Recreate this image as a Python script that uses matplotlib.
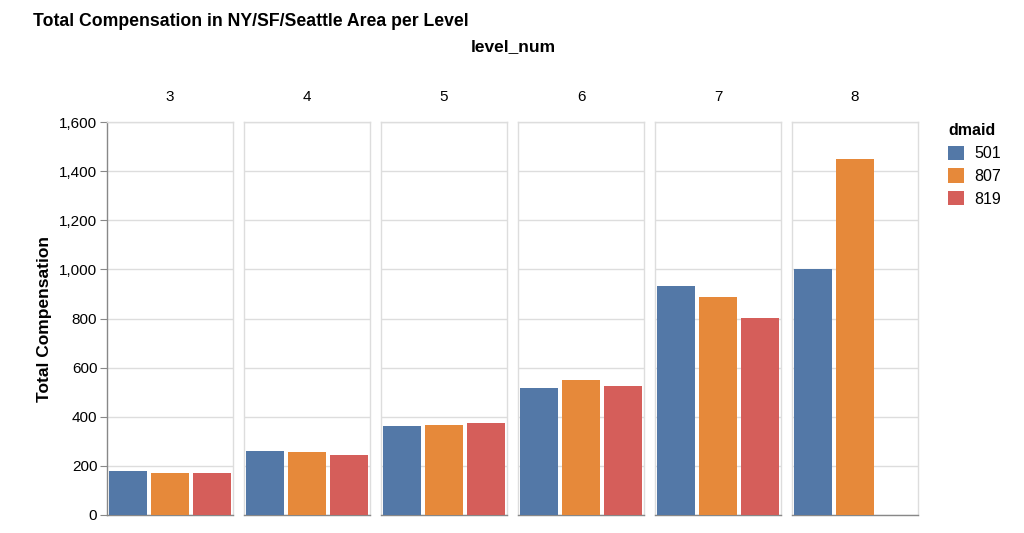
import numpy as np
import matplotlib.pyplot as plt
from matplotlib.patches import Patch

plt.rcParams['font.family'] = ['Liberation Sans', 'DejaVu Sans']

levels = [3, 4, 5, 6, 7, 8]
dmaids = ['501', '807', '819']
comp_501 = [179, 260, 362, 516, 934, 1003]
comp_807 = [173, 255, 365, 550, 889, 1450]
comp_819 = [173, 244, 375, 525, 801, np.nan]
colors = ['#5378a7', '#e6893a', '#d55e5a']

series = [comp_501, comp_807, comp_819]

W, H = 1024, 533
fig = plt.figure(figsize=(W / 100, H / 100), dpi=100)


def px(x0, y0, x1, y1):
    return [x0 / W, 1 - y1 / H, (x1 - x0) / W, (y1 - y0) / H]


left0, fw, step = 107, 126, 137
top, bottom = 122, 515
grid_c = '#dddddd'
axis_c = '#888888'

for i, lev in enumerate(levels):
    x0 = left0 + i * step
    ax = fig.add_axes(px(x0, top, x0 + fw, bottom))
    for j in range(3):
        v = series[j][i]
        if not np.isnan(v):
            ax.bar(j, v, width=0.9, color=colors[j], zorder=3)
    ax.set_xlim(-0.5, 2.5)
    ax.set_ylim(0, 1600)
    ax.set_yticks(np.arange(0, 1601, 200))
    ax.set_xticks([])
    ax.grid(axis='y', color=grid_c, linewidth=1, zorder=0)
    for s in ['top', 'right', 'left']:
        ax.spines[s].set_color(grid_c)
        ax.spines[s].set_linewidth(1)
    ax.spines['bottom'].set_color(axis_c)
    ax.spines['bottom'].set_linewidth(1)
    ax.set_title(str(lev), fontsize=11, pad=15)
    if i == 0:
        ax.spines['left'].set_color(axis_c)
        ax.tick_params(axis='y', length=5, color=axis_c, labelsize=11, pad=2)
        ax.set_yticklabels([f'{int(t):,}' for t in ax.get_yticks()])
        ax.set_ylabel('Total Compensation', fontsize=12.5, fontweight='bold', labelpad=5)
    else:
        ax.tick_params(axis='y', length=0, labelleft=False)

fig.text(33 / W, 1 - 21 / H, 'Total Compensation in NY/SF/Seattle Area per Level',
         fontsize=12.7, fontweight='bold', va='center', ha='left')
fig.text(513 / W, 1 - 47 / H, 'level_num', fontsize=12.5, fontweight='bold',
         va='center', ha='center')

handles = [Patch(facecolor=c, edgecolor='none') for c in colors]
leg = fig.legend(handles, dmaids, title='dmaid', loc='upper left',
                 bbox_to_anchor=(934 / W, 1 - 109 / H), frameon=False,
                 fontsize=11.5, title_fontproperties={'weight': 'bold', 'size': 11.5},
                 handlelength=1.0, handleheight=1.0, handletextpad=0.6,
                 labelspacing=0.45, alignment='left')

fig.savefig('out.png', dpi=100)
